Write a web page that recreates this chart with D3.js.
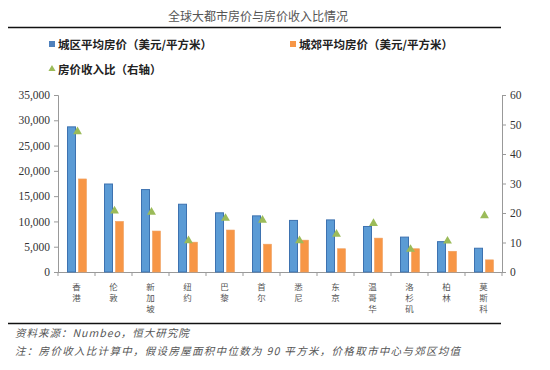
<!DOCTYPE html>
<html><head><meta charset="utf-8">
<script src="https://cdn.jsdelivr.net/npm/d3@7"></script>
<style>body{margin:0;background:#fff}svg{display:block}</style>
</head><body>
<svg id="c" width="550" height="370"></svg>
<script>
const cities = ["香港","伦敦","新加坡","纽约","巴黎","首尔","悉尼","东京","温哥华","洛杉矶","柏林","莫斯科"];
const urbanPrice = [28700,17400,16300,13400,11700,11100,10200,10300,9000,6900,6000,4700];
const suburbPrice = [18400,10000,8100,5900,8300,5500,6300,4600,6700,4600,4100,2400];
const priceIncome = [47.6,20.7,20.3,10.6,18.2,17.6,10.6,12.8,16.5,7.7,10.5,19.1];
const leftTicks = [0,5000,10000,15000,20000,25000,30000,35000];
const rightTicks = [0,10,20,30,40,50,60];

const svg = d3.select("#c");
const x0 = 58, x1 = 502, yTop = 95, yBot = 272;
const x = d3.scaleBand().domain(cities).range([x0,x1]);
const yL = d3.scaleLinear().domain([0,35000]).range([yBot,yTop]);
const yR = d3.scaleLinear().domain([0,60]).range([yBot,yTop]);

// title
svg.append("text").attr("x",258).attr("y",21).attr("text-anchor","middle")
  .attr("font-family","Noto Sans CJK SC").attr("font-size",12).attr("fill","#555")
  .text("全球大都市房价与房价收入比情况");
svg.append("line").attr("x1",8).attr("x2",501).attr("y1",27.5).attr("y2",27.5).attr("stroke","#111").attr("stroke-width",1.6);

// legend
const lg = svg.append("g").attr("font-family","Noto Sans CJK SC").attr("font-weight","bold").attr("font-size",11.5).attr("fill","#222");
lg.append("rect").attr("x",49).attr("y",41).attr("width",6).attr("height",6).attr("fill","#4f81bd");
lg.append("text").attr("x",58).attr("y",49).text("城区平均房价（美元/平方米）");
lg.append("rect").attr("x",290).attr("y",41).attr("width",6).attr("height",6).attr("fill","#f79646");
lg.append("text").attr("x",299).attr("y",49).text("城郊平均房价（美元/平方米）");
lg.append("path").attr("d",d3.symbol(d3.symbolTriangle,22)()).attr("transform","translate(52,69)").attr("fill","#9bbb59");
lg.append("text").attr("x",58).attr("y",74).text("房价收入比（右轴）");

// axes
const axL = svg.append("g").attr("transform",`translate(${x0},0)`)
  .call(d3.axisLeft(yL).tickValues(leftTicks).tickSize(4).tickFormat(d3.format(",")));
const axR = svg.append("g").attr("transform",`translate(${x1},0)`)
  .call(d3.axisRight(yR).tickValues(rightTicks).tickSize(4));
[axL,axR].forEach(a=>{
  a.select(".domain").attr("stroke","#999");
  a.selectAll(".tick line").attr("stroke","#999");
  a.selectAll("text").attr("font-family","Liberation Serif").attr("font-size",11.5).attr("fill","#333");
});
axL.selectAll("text").attr("x",-8);
axR.selectAll("text").attr("x",8);

// bottom axis
const axB = svg.append("g").attr("transform",`translate(0,${yBot})`);
axB.append("line").attr("x1",x0).attr("x2",x1).attr("y1",0.5).attr("y2",0.5).attr("stroke","#999");
axB.selectAll("line.t").data(d3.range(cities.length+1)).join("line").attr("class","t")
  .attr("x1",i=>x0+i*x.step()).attr("x2",i=>x0+i*x.step()).attr("y1",0).attr("y2",4).attr("stroke","#999");

// bars
const bw = 8, gap = 3;
svg.append("g").selectAll("rect").data(cities).join("rect")
  .attr("x",d=>x(d)+x.bandwidth()/2-bw-gap/2+0.5).attr("y",(d,i)=>yL(urbanPrice[i]))
  .attr("width",bw).attr("height",(d,i)=>yBot-yL(urbanPrice[i]))
  .attr("fill","#5b9bd5").attr("stroke","#3d72b0").attr("stroke-width",1);
svg.append("g").selectAll("rect").data(cities).join("rect")
  .attr("x",d=>x(d)+x.bandwidth()/2+gap/2+0.5).attr("y",(d,i)=>yL(suburbPrice[i]))
  .attr("width",bw).attr("height",(d,i)=>yBot-yL(suburbPrice[i]))
  .attr("fill","#f79646").attr("stroke","#f0a060").attr("stroke-width",0.6);

// triangles
svg.append("g").selectAll("path").data(cities).join("path")
  .attr("d",d3.symbol(d3.symbolTriangle,34)())
  .attr("transform",(d,i)=>`translate(${x(d)+x.bandwidth()/2+1},${yR(priceIncome[i])})`)
  .attr("fill","#9bbb59");

// x labels, vertical
const xl = svg.append("g").attr("font-family","Noto Sans CJK SC").attr("font-size",8.5).attr("fill","#555").attr("text-anchor","middle");
cities.forEach(c=>{
  [...c].forEach((ch,j)=>{
    xl.append("text").attr("x",x(c)+x.bandwidth()/2).attr("y",290+j*11).text(ch);
  });
});

// footer
svg.append("line").attr("x1",8).attr("x2",501).attr("y1",323.5).attr("y2",323.5).attr("stroke","#111").attr("stroke-width",1.6);
const ft = svg.append("g").attr("font-family","Noto Sans CJK SC").attr("font-style","italic").attr("font-size",10.5).attr("fill","#555");
ft.append("text").attr("x",15).attr("y",337).attr("letter-spacing",1).text("资料来源：Numbeo，恒大研究院");
ft.append("text").attr("x",15).attr("y",355).attr("letter-spacing",1.3).text("注：房价收入比计算中，假设房屋面积中位数为 90 平方米，价格取市中心与郊区均值");
</script>
</body></html>
